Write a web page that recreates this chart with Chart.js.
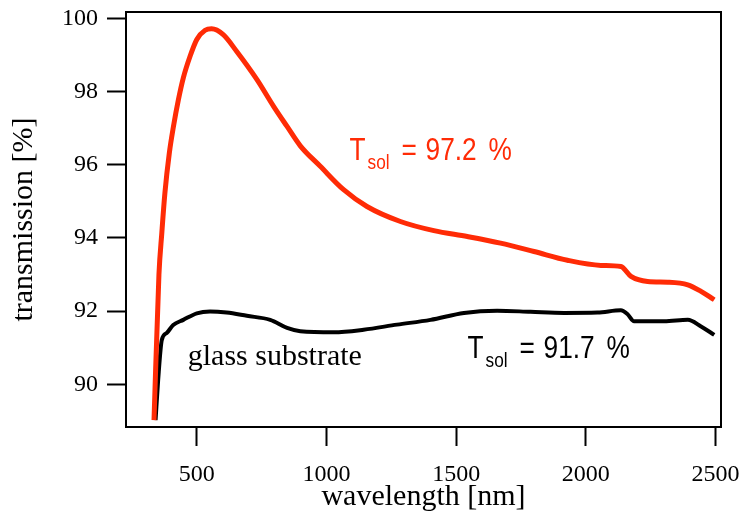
<!DOCTYPE html>
<html>
<head>
<meta charset="utf-8">
<script src="https://cdn.jsdelivr.net/npm/chart.js@4.4.0/dist/chart.umd.min.js"></script>
<style>
  html, body { margin: 0; padding: 0; background: #fff; }
  #wrap { width: 742px; height: 519px; }
</style>
</head>
<body>
<div id="wrap"><canvas id="mycanvas" width="742" height="519"></canvas></div>
<script>
// coated sample (red)
var redNm = [335, 354, 365, 377, 394, 410, 429, 448, 474, 500, 532, 557, 602, 654, 732, 796, 848, 899, 976, 1066, 1156, 1285, 1414, 1543, 1671, 1800, 1929, 2058, 2135, 2174, 2238, 2316, 2393, 2444, 2495];
var redT = [89.02, 93.0, 94.13, 95.23, 96.32, 97.05, 97.78, 98.38, 98.97, 99.43, 99.68, 99.72, 99.56, 99.1, 98.33, 97.6, 97.05, 96.52, 95.96, 95.32, 94.86, 94.45, 94.2, 94.04, 93.86, 93.63, 93.39, 93.25, 93.22, 92.95, 92.81, 92.79, 92.72, 92.54, 92.31];

// glass substrate (black)
var blackNm = [341, 351, 365, 384, 409, 448, 500, 551, 615, 693, 783, 848, 899, 1028, 1143, 1272, 1401, 1530, 1658, 1787, 1916, 2045, 2135, 2160, 2186, 2302, 2393, 2444, 2495];
var blackT = [89.02, 90.12, 91.21, 91.4, 91.62, 91.76, 91.94, 91.99, 91.96, 91.87, 91.76, 91.54, 91.45, 91.42, 91.49, 91.63, 91.76, 91.95, 92.01, 91.98, 91.95, 91.96, 92.02, 91.92, 91.72, 91.72, 91.76, 91.58, 91.35];

var xTicks = [500, 1000, 1500, 2000, 2500];
var yTicks = [90, 92, 94, 96, 98, 100];

var redLabel = "97.2";
var blackLabel = "91.7";
var substrateLabel = "glass substrate";

function toPoints(xs, ys) {
  var pts = [];
  for (var i = 0; i < xs.length; i++) {
    pts.push({x: xs[i], y: ys[i]});
  }
  return pts;
}

var sans = '"Liberation Sans", Arial, sans-serif';
var serif = '"Liberation Serif", "Times New Roman", serif';

// narrow helvetica look: squeeze each piece horizontally
function piece(ctx, txt, dx, dy, size) {
  ctx.save();
  ctx.translate(dx, dy);
  ctx.scale(0.82, 1);
  ctx.font = size + 'px ' + sans;
  ctx.fillText(txt, 0, 0);
  ctx.restore();
}

function drawTsol(ctx, x, y, value, color) {
  ctx.save();
  ctx.translate(x, y);
  ctx.fillStyle = color;
  ctx.textBaseline = 'alphabetic';
  ctx.textAlign = 'left';
  piece(ctx, 'T', 0, 0, 32);
  piece(ctx, 'sol', 18, 9, 21);
  piece(ctx, '=', 52, 0, 32);
  piece(ctx, value, 76, 0, 32);
  piece(ctx, '%', 139, 0, 32);
  ctx.restore();
}

var labelsPlugin = {
  id: 'labels',
  afterDraw: function(chart) {
    var ctx = chart.ctx;
    var a = chart.chartArea;
    var xs = chart.scales.x, ys = chart.scales.y;
    ctx.save();
    ctx.strokeStyle = '#000';
    ctx.lineWidth = 2;
    ctx.strokeRect(a.left, a.top, a.right - a.left, a.bottom - a.top);
    ctx.restore();

    drawTsol(ctx, xs.getPixelForValue(1089), ys.getPixelForValue(96.14), redLabel, '#ff2b06');
    drawTsol(ctx, xs.getPixelForValue(1544), ys.getPixelForValue(90.72), blackLabel, '#000');

    ctx.save();
    ctx.fillStyle = '#000';
    ctx.font = '30px ' + serif;
    ctx.textBaseline = 'alphabetic';
    ctx.fillText(substrateLabel, xs.getPixelForValue(465), ys.getPixelForValue(90.53));
    ctx.restore();
  }
};

var ctx = document.getElementById('mycanvas');
var chart = new Chart(ctx, {
  type: 'scatter',
  data: {
    datasets: [
      {
        label: 'coating',
        data: toPoints(redNm, redT),
        showLine: true,
        borderColor: '#ff2b06',
        borderWidth: 5,
        pointRadius: 0,
        cubicInterpolationMode: 'monotone'
      },
      {
        label: 'glass substrate',
        data: toPoints(blackNm, blackT),
        showLine: true,
        borderColor: '#000',
        borderWidth: 4,
        pointRadius: 0,
        cubicInterpolationMode: 'monotone'
      }
    ]
  },
  options: {
    responsive: false,
    animation: false,
    layout: { padding: { top: 12, right: 21, left: 0, bottom: 0 } },
    plugins: { legend: { display: false }, tooltip: { enabled: false } },
    scales: {
      x: {
        type: 'linear',
        min: 227,
        max: 2521,
        afterBuildTicks: function(scale) {
          scale.ticks = xTicks.map(function(v) { return {value: v}; });
        },
        afterFit: function(scale) {
          scale.height = 92;
          scale.paddingLeft = 0;
          scale.paddingRight = 0;
        },
        grid: { display: true, drawOnChartArea: false, drawTicks: true, tickLength: 19, tickWidth: 2, tickColor: '#000' },
        border: { display: true, color: '#000', width: 2 },
        ticks: {
          color: '#000', font: { family: serif, size: 24 }, padding: 14, maxRotation: 0,
          callback: function(v) { return String(v); }
        },
        title: { display: true, text: 'wavelength [nm]', color: '#000', font: { family: serif, size: 30 }, padding: { top: 0, bottom: 4 } }
      },
      y: {
        min: 88.83,
        max: 100.18,
        afterBuildTicks: function(scale) {
          scale.ticks = yTicks.map(function(v) { return {value: v}; });
        },
        afterFit: function(scale) {
          scale.width = 126;
          scale.paddingTop = 0;
          scale.paddingBottom = 0;
        },
        grid: { display: true, drawOnChartArea: false, drawTicks: true, tickLength: 19, tickWidth: 2, tickColor: '#000' },
        border: { display: true, color: '#000', width: 2 },
        ticks: {
          color: '#000', font: { family: serif, size: 24 }, padding: 9,
          callback: function(v) { return String(v); }
        },
        title: { display: true, text: 'transmission [%]', color: '#000', font: { family: serif, size: 30 }, padding: { top: 6, bottom: 0 } }
      }
    }
  },
  plugins: [labelsPlugin]
});
</script>
</body>
</html>
